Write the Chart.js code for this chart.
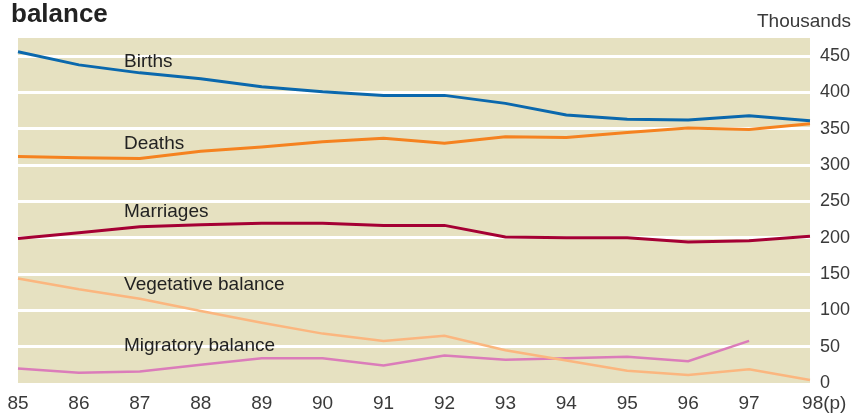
<!DOCTYPE html>
<html>
<head>
<meta charset="utf-8">
<script src="https://cdn.jsdelivr.net/npm/chart.js@4"></script>
<style>
  html, body { margin: 0; padding: 0; background: #fff; }
  #wrap { width: 853px; height: 414px; position: relative; }
</style>
</head>
<body>
<div id="wrap"><canvas id="chart"></canvas></div>
<script>
// years (thousands of events)
const years = ['85', '86', '87', '88', '89', '90', '91', '92', '93', '94', '95', '96', '97', '98(p)'];

const births     = [456, 438, 427, 419, 408, 401, 396, 396, 385, 369, 363, 362, 368, 361];
const deaths     = [312, 310, 309, 319, 325, 332, 337, 330, 339, 338, 345, 351, 349, 357];
const marriages  = [199, 207, 215, 218, 220, 220, 217, 217, 201, 200, 200, 194, 196, 202];
const vegetative = [144, 129, 116, 99, 83, 68, 58, 65, 45, 31, 17, 11, 19, 4];
const migratory  = [20, 14, 16, 25, 34, 34, 24, 38, 32, 34, 36, 30, 58, null];

const seriesNames = ['Births', 'Deaths', 'Marriages', 'Vegetative balance', 'Migratory balance'];
// label anchors in data space (category index, value)
const labelIndex = 1.74;
const labelValues = [442, 330, 236, 135, 51];

const yTicks = [0, 50, 100, 150, 200, 250, 300, 350, 400, 450];

const FONT = "'Liberation Sans', Arial, sans-serif";

// beige plot background + texts
const decor = {
    id: 'decor',
    beforeDraw(chart) {
        const { ctx, chartArea: a } = chart;
        ctx.save();
        ctx.fillStyle = '#e6e1c1';
        ctx.fillRect(a.left, a.top, a.right - a.left, a.bottom - a.top);
        ctx.restore();
    },
    afterDraw(chart) {
        const { ctx, scales } = chart;
        ctx.save();
        ctx.fillStyle = '#222';
        ctx.textBaseline = 'alphabetic';
        ctx.font = `bold 26px ${FONT}`;
        ctx.textAlign = 'left';
        ctx.fillText('balance', 11, 22);
        ctx.font = `19px ${FONT}`;
        ctx.fillStyle = '#3a3a3a';
        ctx.textAlign = 'right';
        ctx.fillText('Thousands', 851, 27);

        ctx.fillStyle = '#222';
        ctx.textAlign = 'left';
        ctx.textBaseline = 'middle';
        const x = scales.x.getPixelForValue(labelIndex);
        seriesNames.forEach((name, i) => {
            ctx.fillText(name, x, scales.y.getPixelForValue(labelValues[i]));
        });
        ctx.restore();
    }
};

const mk = (data, color, width) => ({
    data,
    borderColor: color,
    borderWidth: width,
    pointRadius: 0,
    tension: 0,
    fill: false,
    spanGaps: false
});

new Chart(document.getElementById('chart'), {
    type: 'line',
    data: {
        labels: years,
        datasets: [
            mk(births, '#0a68ad', 3),
            mk(deaths, '#f5821f', 3),
            mk(marriages, '#a50034', 3),
            mk(vegetative, '#fbb67f', 2.5),
            mk(migratory, '#db7cba', 2.5)
        ]
    },
    options: {
        responsive: true,
        maintainAspectRatio: false,
        animation: false,
        layout: { padding: { top: 38, right: 3, bottom: 1, left: 18 } },
        plugins: {
            legend: { display: false },
            tooltip: { enabled: false }
        },
        scales: {
            x: {
                offset: false,
                afterFit: (axis) => {
                    axis.height = 30;
                    axis.paddingLeft = 0;
                    axis.paddingRight = 0;
                },
                grid: { display: false, drawTicks: false },
                border: { display: false },
                ticks: {
                    color: '#3a3a3a',
                    font: { family: FONT, size: 19 },
                    padding: 9,
                    maxRotation: 0,
                    autoSkip: false,
                    // keep the year digits centred on the tick, "(p)" hangs to the right
                    callback: function (v) {
                        const s = this.getLabelForValue(v);
                        return s.endsWith('(p)') ? '\u2002\u2002\u2002' + s : s;
                    }
                }
            },
            y: {
                position: 'right',
                min: 0,
                max: 475,
                afterFit: (axis) => { axis.width = 40; },
                afterBuildTicks: (axis) => {
                    axis.ticks = yTicks.map(v => ({ value: v }));
                },
                grid: {
                    color: ctx => ctx.tick && ctx.tick.value === 0 ? 'rgba(0,0,0,0)' : '#ffffff',
                    lineWidth: 3,
                    drawTicks: false
                },
                border: { display: false },
                ticks: {
                    color: '#3a3a3a',
                    font: { family: FONT, size: 18 },
                    padding: 10
                }
            }
        }
    },
    plugins: [decor]
});
</script>
</body>
</html>
